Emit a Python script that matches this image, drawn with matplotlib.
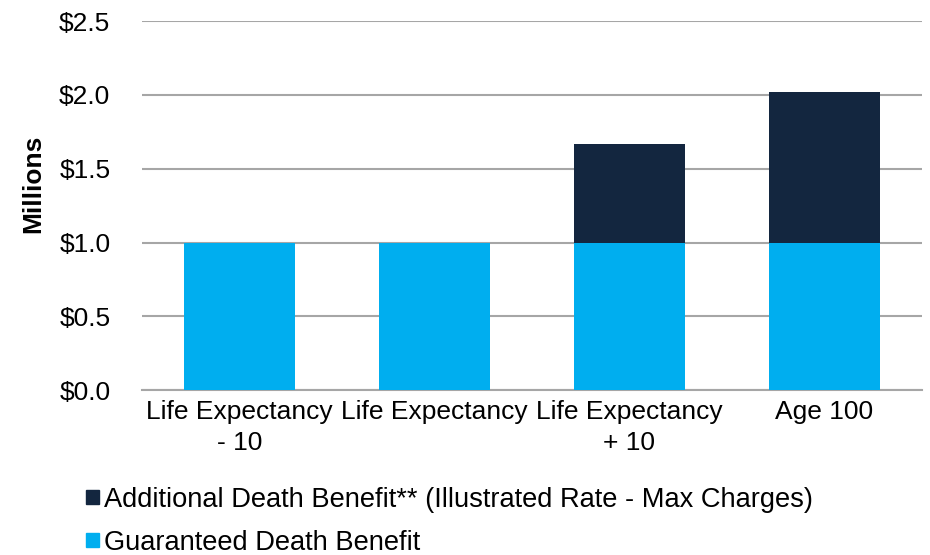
import matplotlib.pyplot as plt
import numpy as np
from matplotlib.patches import Patch

# data (millions)
categories = ["Life Expectancy\n- 10", "Life Expectancy", "Life Expectancy\n+ 10", "Age 100"]
guaranteed = [1.0, 1.0, 1.0, 1.0]
additional = [0.0, 0.0, 0.67, 1.02]
series_names = ["Additional Death Benefit** (Illustrated Rate - Max Charges)", "Guaranteed Death Benefit"]
yticks = [0.0, 0.5, 1.0, 1.5, 2.0, 2.5]

c_guar = "#00AEEF"
c_add = "#13263F"
grid_c = "#A6A6A6"
fs = 19

plt.rcParams['font.family'] = ['Liberation Sans', 'DejaVu Sans']

fig = plt.figure(figsize=(9.3, 5.55), dpi=100)
ax = fig.add_axes([0.153, 0.297, 0.838, 0.665])

x = np.arange(len(categories))
w = 0.57
ax.bar(x, guaranteed, w, color=c_guar, zorder=3)
ax.bar(x, additional, w, bottom=guaranteed, color=c_add, zorder=3)

ax.set_xlim(-0.5, 3.5)
ax.set_ylim(0, 2.5)
ax.set_yticks(yticks)
ax.set_yticklabels(["$%.1f" % v for v in yticks], fontsize=fs)
ax.set_xticks(x)
ax.set_xticklabels(categories, fontsize=fs, linespacing=1.35)
ax.tick_params(length=0)
ax.tick_params(axis='y', pad=23)
ax.tick_params(axis='x', pad=7)
ax.grid(axis='y', color=grid_c, linewidth=1.5, zorder=0)
for s in ['top', 'right', 'left']:
    ax.spines[s].set_visible(False)
ax.spines['bottom'].set_color(grid_c)
ax.spines['bottom'].set_linewidth(1.5)
ax.set_ylabel("Millions", fontsize=fs, fontweight='bold')
ax.yaxis.set_label_coords(-0.125, 0.558)

handles = [Patch(color=c_add), Patch(color=c_guar)]
fig.legend(handles, series_names, loc='upper left', bbox_to_anchor=(0.093, 0.123),
           frameon=False, fontsize=19.6, handlelength=0.45, handleheight=0.45,
           handletextpad=0.2, labelspacing=0.62, borderaxespad=0, borderpad=0)

fig.savefig("out.png", dpi=100)
